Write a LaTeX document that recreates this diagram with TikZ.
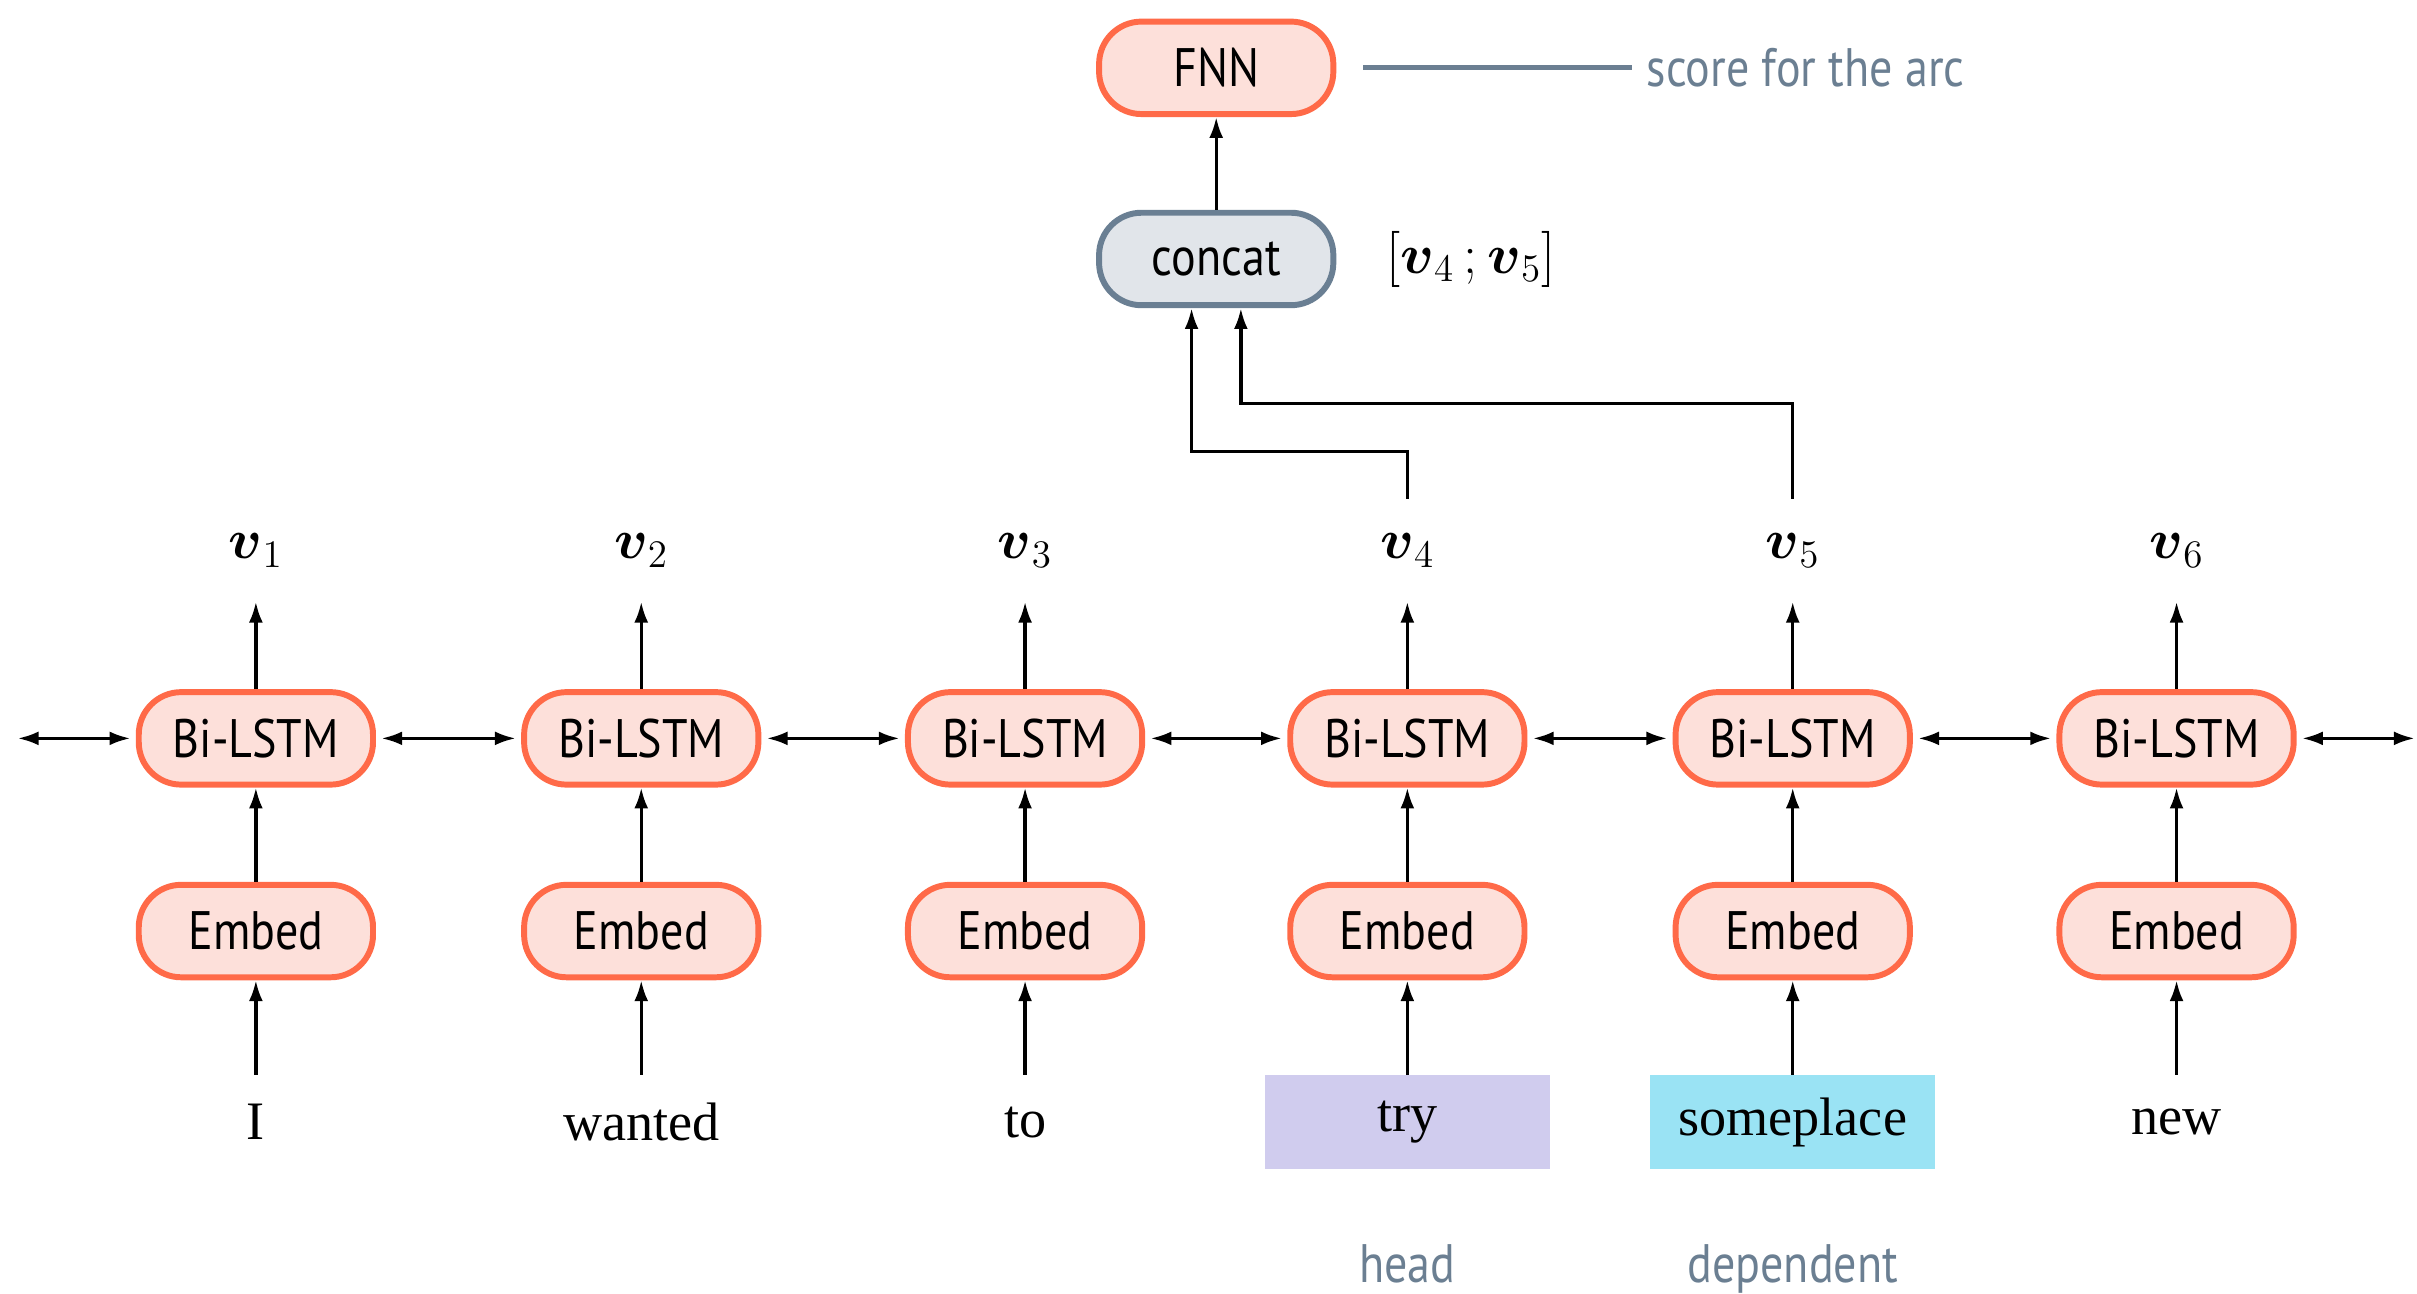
\documentclass[tikz,border=0pt]{standalone}
\usepackage{amsmath}
\usepackage{fontspec}
\setmainfont{Liberation Serif}
\setsansfont{PT Sans}
\newfontfamily\narrowsans[FakeStretch = 0.85]{PT Sans}
\usetikzlibrary{arrows.meta}

\definecolor{boxfill}{HTML}{FDE0DA}
\definecolor{boxline}{HTML}{FF6A48}
\definecolor{catfill}{HTML}{E1E5EA}
\definecolor{catline}{HTML}{6A7F93}
\definecolor{headfill}{HTML}{D0CCEE}
\definecolor{depfill}{HTML}{9AE3F4}
\definecolor{notegray}{HTML}{6B7F92}

\begin{document}
\begin{tikzpicture}[x = 0.02cm, y = -0.02cm,
  arr/.style = {-{Latex[length = 0.27cm, width = 0.18cm]}, line width = 1.2pt},
  biarr/.style = {{Latex[length = 0.27cm, width = 0.18cm]}-{Latex[length =
  0.27cm, width = 0.18cm]}, line width = 1.2pt, shorten <= 0.07cm, shorten >=
  0.07cm},
  unit/.style = {draw = boxline, fill = boxfill, line width = 2.2pt, rounded
  corners = 0.55cm, minimum width = 3.04cm, minimum height = 1.2cm, inner sep =
  0, font = \narrowsans\fontsize{20}{22}\selectfont},
  word/.style = {minimum width = 3.7cm, minimum height = 1.22cm, inner sep = 0,
  font = \fontsize{20}{24}\selectfont},
  vlab/.style = {minimum height = 1.32cm, inner sep = 0, font =
  \fontsize{21}{24}\selectfont},
  note/.style = {text = notegray, inner sep = 0.12cm, font =
  \narrowsans\fontsize{20}{22}\selectfont}]
  \useasboundingbox (0, 0) rectangle (1568, 839);
  % draw the columns: word, embedding, Bi-LSTM, output vector
  \foreach \i/\x/\w/\c in {1/166/I/none, 2/416/wanted/none, 3/665/to/none,
    4/913/try/headfill, 5/1163/someplace/depfill, 6/1412/new/none} {
    \node[word, fill = \c] (w\i) at (\x, 728) {\w};
    \node[unit] (e\i) at (\x, 604) {Embed};
    \node[unit] (b\i) at (\x, 479) {Bi-LSTM};
    \node[vlab] (v\i) at (\x, 357) {$\boldsymbol{v}_{\i}$};
    \draw[arr] (w\i) -- (e\i);
    \draw[arr] (e\i) -- (b\i);
    \draw[arr] (b\i) -- (v\i);
  }
  % draw the recurrent connections
  \coordinate (lend) at (8, 479);
  \coordinate (rend) at (1570, 479);
  \draw[biarr] (lend) -- (b1);
  \foreach \i/\j in {1/2, 2/3, 3/4, 4/5, 5/6}
  \draw[biarr] (b\i) -- (b\j);
  \draw[biarr] (b6) -- (rend);
  % draw concat and FNN
  \node[unit, draw = catline, fill = catfill] (cat) at (789, 168) {concat};
  \node[unit] (fnn) at (789, 44) {FNN};
  \draw[arr] (cat) -- (fnn);
  \draw[arr] (v4.north) -- ++(0, -31) -| ([xshift = -0.32cm]cat.south);
  \draw[arr] (v5.north) -- ++(0, -62) -| ([xshift = 0.32cm]cat.south);
  \node[anchor = west, font = \fontsize{20}{24}\selectfont] (pair) at (893,
  168) {$[\boldsymbol{v}_4\,;\boldsymbol{v}_5]$};
  % draw the notes
  \node[note, anchor = west] (score) at (1062, 44) {score for the arc};
  \draw[notegray, line width = 1.8pt, shorten <= 0.35cm, shorten >= 0.06cm]
  (fnn.east) -- (fnn.east -| score.west);
  \node[note, anchor = base] (head) at (913, 832) {head};
  \node[note, anchor = base] (dep) at (1163, 832) {dependent};
\end{tikzpicture}
\end{document}
